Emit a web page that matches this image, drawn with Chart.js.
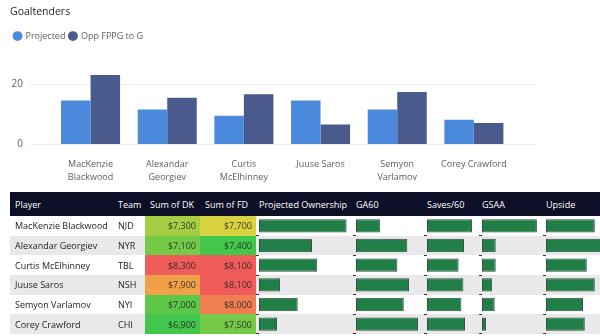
<!DOCTYPE html>
<html>
<head>
<meta charset="utf-8">
<script src="https://cdn.jsdelivr.net/npm/chart.js@4.4.1/dist/chart.umd.min.js"></script>
<style>
  body { margin: 0; background: #fff; }
  #wrap { position: relative; width: 600px; height: 336px; overflow: hidden; background: #fff; font-family: 'Open Sans', sans-serif; }
  #topChart { position: absolute; left: 0; top: 0; }
  #tbl { position: absolute; left: 10px; top: 192px; width: 600px; border-collapse: collapse; table-layout: fixed; font-size: 9px; color: #252423; }
  #tbl th { background: #0c0f26; color: #fff; font-weight: normal; text-align: left; height: 24px; padding: 0 0 0 5px; white-space: nowrap; overflow: hidden; }
  #tbl td { height: 19.67px; padding: 0 0 0 5px; white-space: nowrap; overflow: hidden; }
  #tbl tr:nth-child(even) td { background: #e9e9eb; }
  #tbl td.money { text-align: right; padding: 0 4px 0 0; color: rgba(35,35,35,0.85); }
  #tbl th.bar { padding-left: 3px; }
  .barcv { position: absolute; top: 216px; }
</style>
</head>
<body>
<div id="wrap">
  <canvas id="topChart" width="600" height="200"></canvas>
  <table id="tbl">
    <colgroup>
      <col style="width:103px"><col style="width:32px"><col style="width:55px"><col style="width:56px">
      <col style="width:97px"><col style="width:71px"><col style="width:55px"><col style="width:64px"><col style="width:67px">
    </colgroup>
    <thead><tr id="head"></tr></thead>
    <tbody id="body"></tbody>
  </table>
  <canvas class="barcv" id="cvPO" width="97" height="118" style="left:256px"></canvas>
  <canvas class="barcv" id="cvGA" width="71" height="118" style="left:353px"></canvas>
  <canvas class="barcv" id="cvSV" width="55" height="118" style="left:424px"></canvas>
  <canvas class="barcv" id="cvGS" width="64" height="118" style="left:479px"></canvas>
  <canvas class="barcv" id="cvUP" width="67" height="118" style="left:543px"></canvas>
</div>
<script>
// top chart data
var goalieLabels = [["MacKenzie", "Blackwood"], ["Alexandar", "Georgiev"], ["Curtis", "McElhinney"], "Juuse Saros", ["Semyon", "Varlamov"], "Corey Crawford"];
var projected = [14.7, 11.7, 9.6, 14.7, 11.7, 8.3];
var oppFppg = [23.2, 15.6, 16.8, 6.7, 17.5, 7.2];

// table data
var columns = ["Player", "Team", "Sum of DK", "Sum of FD", "Projected Ownership", "GA60", "Saves/60", "GSAA", "Upside"];
var players = ["MacKenzie Blackwood", "Alexandar Georgiev", "Curtis McElhinney", "Juuse Saros", "Semyon Varlamov", "Corey Crawford"];
var teams = ["NJD", "NYR", "TBL", "NSH", "NYI", "CHI"];
var dkSalary = [7300, 7100, 8300, 7900, 7000, 6900];
var fdSalary = [7700, 7400, 8100, 8100, 8000, 7500];
var projOwnership = [23.3, 14.1, 15.5, 5.6, 10.3, 4.8];
var ga60 = [1.25, 2.64, 2.13, 2.73, 2.46, 3.19];
var saves60 = [31.2, 25.6, 21.9, 25.2, 23.8, 26.3];
var gsaa = [10.8, 2.7, 2.7, 2.0, 2.5, 0.8];
var upside = [24.4, 28.0, 20.4, 24.4, 18.5, 19.4];

Chart.defaults.font.family = "'Open Sans', sans-serif";
Chart.defaults.animation = false;

// leave some room under the legend, like the report does
var legendGap = {
    id: "legendGap",
    beforeInit: function(chart) {
        var fit = chart.legend.fit;
        chart.legend.fit = function() {
            fit.bind(chart.legend)();
            this.height += 19;
        };
    }
};

new Chart(document.getElementById("topChart").getContext("2d"), {
    type: "bar",
    data: {
        labels: goalieLabels,
        datasets: [{
            label: "Projected",
            data: projected,
            backgroundColor: "#4b89dc"
        }, {
            label: "Opp FPPG to G",
            data: oppFppg,
            backgroundColor: "#4b5a8c"
        }]
    },
    plugins: [legendGap],
    options: {
        responsive: false,
        devicePixelRatio: 1,
        layout: { padding: { left: 10, right: 64, top: 0, bottom: 10.5 } },
        datasets: { bar: { categoryPercentage: 0.77, barPercentage: 1 } },
        plugins: {
            title: {
                display: true, text: "Goaltenders", align: "start", color: "#252423",
                font: { size: 10.5, weight: "normal" }, padding: { top: 6, bottom: 9 }
            },
            legend: {
                align: "start",
                labels: { usePointStyle: true, pointStyle: "circle", boxWidth: 7, boxHeight: 7, color: "#605e5c", font: { size: 9 }, padding: 4 }
            },
            tooltip: { enabled: false }
        },
        scales: {
            x: {
                grid: { display: false },
                border: { display: false },
                ticks: { color: "#605e5c", font: { size: 9, lineHeight: 1.5 }, padding: 5, maxRotation: 0, autoSkip: false },
                afterBuildTicks: function(scale) {
                    // widen the category range so the plot leaves room at both ends
                    scale._startValue = -0.79;
                    scale._valueRange = 6.6;
                }
            },
            y: {
                min: 0, max: 25,
                border: { display: false },
                grid: { color: "#eeeeee", drawTicks: false },
                ticks: { color: "#605e5c", font: { size: 10 }, padding: 7, stepSize: 20 },
                afterBuildTicks: function(scale) {
                    scale.ticks = scale.ticks.filter(function(t) { return t.value % 20 === 0; });
                },
                afterFit: function(scale) { scale.width = 20; }
            }
        }
    }
});

// table
var green = [66, 198, 76], yellow = [240, 212, 58], red = [240, 92, 90];
function mix(a, b, t) {
    return "rgb(" + a.map(function(v, i) { return Math.round(v + (b[i] - v) * t); }).join(",") + ")";
}
function scaleColor(v, arr) {
    var lo = Math.min.apply(null, arr), hi = Math.max.apply(null, arr), mid = (lo + hi) / 2;
    if (v <= mid) return mix(green, yellow, (v - lo) / (mid - lo));
    return mix(yellow, red, (v - mid) / (hi - mid));
}
function money(v) { return "$" + v.toLocaleString("en-US"); }

var head = document.getElementById("head");
columns.forEach(function(c, i) {
    var th = document.createElement("th");
    th.textContent = c;
    if (i >= 4) th.className = "bar";
    head.appendChild(th);
});
var body = document.getElementById("body");
players.forEach(function(p, i) {
    var tr = document.createElement("tr");
    var cells = [p, teams[i], money(dkSalary[i]), money(fdSalary[i]), "", "", "", "", ""];
    cells.forEach(function(txt, j) {
        var td = document.createElement("td");
        td.textContent = txt;
        if (j === 2) { td.className = "money"; td.style.background = scaleColor(dkSalary[i], dkSalary); }
        if (j === 3) { td.className = "money"; td.style.background = scaleColor(fdSalary[i], fdSalary); }
        tr.appendChild(td);
    });
    body.appendChild(tr);
});

// data bars
function dataBars(id, values, max) {
    new Chart(document.getElementById(id).getContext("2d"), {
        type: "bar",
        data: {
            labels: players,
            datasets: [{
                data: values,
                backgroundColor: "#1f7f47",
                borderColor: "#3b4d41",
                borderWidth: 1,
                borderSkipped: false,
                barPercentage: 0.68,
                categoryPercentage: 1
            }]
        },
        options: {
            indexAxis: "y",
            responsive: false,
            devicePixelRatio: 1,
            layout: { padding: 0 },
            plugins: { legend: { display: false }, tooltip: { enabled: false } },
            scales: {
                x: { display: false, min: 0, max: max },
                y: {
                    border: { display: false },
                    ticks: { display: false },
                    grid: { drawOnChartArea: false, tickLength: 3, color: "#333" }
                }
            }
        }
    });
}
dataBars("cvPO", projOwnership, 25);
dataBars("cvGA", ga60, 3.5);
dataBars("cvSV", saves60, 36);
dataBars("cvGS", gsaa, 12);
dataBars("cvUP", upside, 32);
</script>
</body>
</html>
